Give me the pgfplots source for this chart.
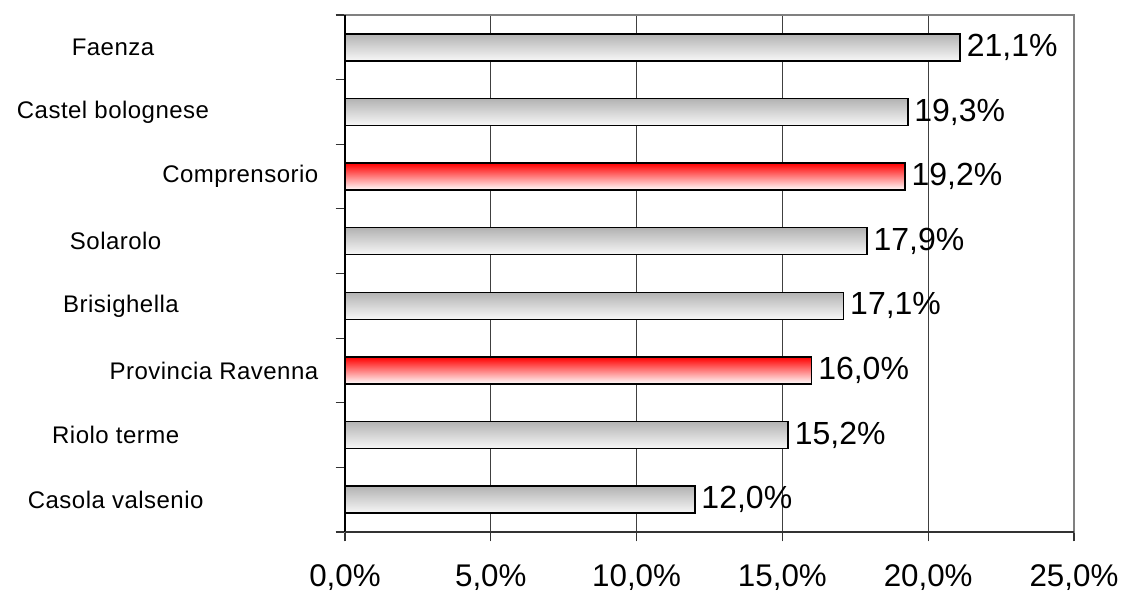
\documentclass[border=0pt]{standalone}
\usepackage{pgfplots}
\pgfplotsset{compat=1.18}
\usepackage{fontspec}
\setmainfont{Liberation Sans}
\newfontfamily\catfont[LetterSpace=2]{Liberation Sans}

\begin{document}
\begin{tikzpicture}
\begin{axis}[
  name=ax,
  scale only axis,
  clip=false,
  width=546.75pt, height=387.75pt,
  xmin=0, xmax=25, ymin=-0.5, ymax=7.5,
  xbar, bar width=20.25pt, bar shift=0pt,
  xtick={0,5,...,25},
  ytick={-0.5,0.5,...,7.5},
  yticklabels={},
  tick align=outside,
  xtick pos=bottom, ytick pos=left,
  major tick length=7pt,
  tick style={black!80, line width=0.9pt},
  axis line style={black!50, line width=1.1pt},
  xmajorgrids,
  grid style={black!75, line width=0.8pt},
  /pgf/number format/.cd, fixed, fixed zerofill, precision=1, use comma, assume math mode=true,
  /pgfplots/.cd,
  xticklabel={\pgfmathprintnumber{\tick}\%},
  xticklabel style={font=\fontsize{23.5pt}{27pt}\selectfont, yshift=-14pt},
  nodes near coords={\pgfmathprintnumber{\pgfplotspointmeta}\%},
  point meta=x,
  every node near coord/.append style={font=\fontsize{24pt}{27pt}\selectfont, black, anchor=west, xshift=1pt},
  comune/.style={draw=black, line width=1.2pt, top color=black!30, bottom color=black!3},
  totale/.style={draw=black, line width=1.4pt, top color=red, bottom color=white},
]
% one plot per bar, so that each bar gets its own gradient
\addplot[comune] coordinates {(12.0,0)}; % Casola valsenio
\addplot[comune] coordinates {(15.2,1)}; % Riolo terme
\addplot[totale] coordinates {(16.0,2)}; % Provincia Ravenna
\addplot[comune] coordinates {(17.1,3)}; % Brisighella
\addplot[comune] coordinates {(17.9,4)}; % Solarolo
\addplot[totale] coordinates {(19.2,5)}; % Comprensorio
\addplot[comune] coordinates {(19.3,6)}; % Castel bolognese
\addplot[comune] coordinates {(21.1,7)}; % Faenza

% left and bottom axis lines
\draw[black, line width=1.1pt] (rel axis cs:0,0) -- (rel axis cs:0,1);
\draw[black!80, line width=1.1pt] (rel axis cs:0,0) -- (rel axis cs:1,0);

% category names
\begin{scope}[every node/.style={font=\catfont\fontsize{18pt}{21pt}\selectfont}]
\node[anchor=center] at ([xshift=-174pt]axis cs:0,7) {Faenza};
\node[anchor=center] at ([xshift=-174pt]axis cs:0,6) {Castel bolognese};
\node[anchor=east]   at ([xshift=-16.5pt]axis cs:0,5) {Comprensorio};
\node[anchor=center] at ([xshift=-172pt]axis cs:0,4) {Solarolo};
\node[anchor=center] at ([xshift=-168pt]axis cs:0,3) {Brisighella};
\node[anchor=east]   at ([xshift=-16.5pt]axis cs:0,2) {Provincia Ravenna};
\node[anchor=center] at ([xshift=-172pt]axis cs:0,1) {Riolo terme};
\node[anchor=center] at ([xshift=-172pt]axis cs:0,0) {Casola valsenio};
\end{scope}
\end{axis}
\pgfresetboundingbox
\path[use as bounding box] ([xshift=-258.75pt,yshift=-45pt]ax.south west)
  rectangle ([xshift=36pt,yshift=11.25pt]ax.north east);
\end{tikzpicture}
\end{document}
